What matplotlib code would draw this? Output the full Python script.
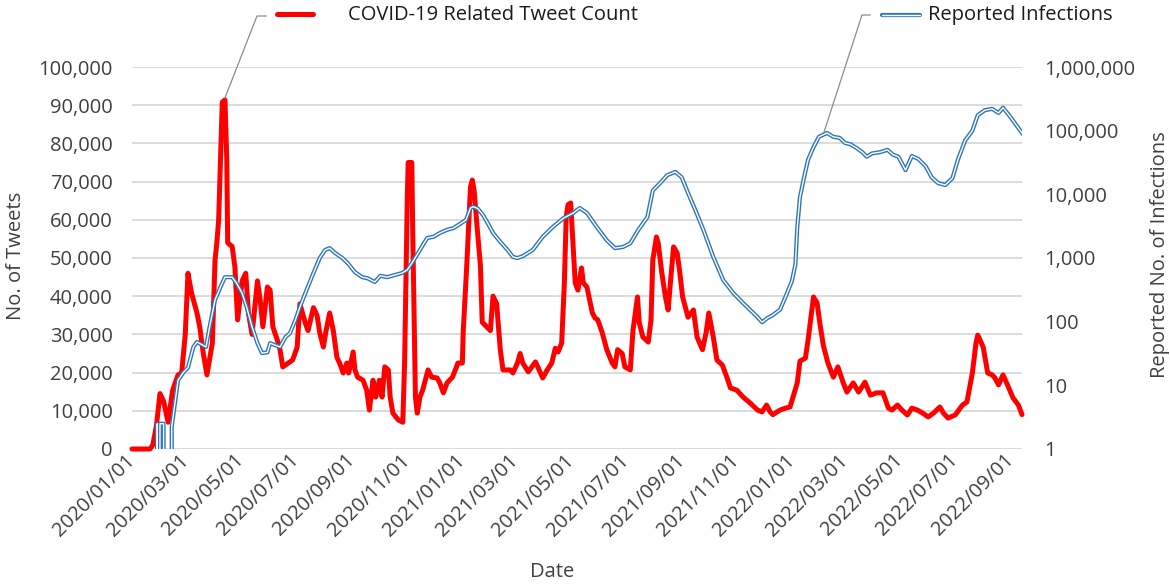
import matplotlib
matplotlib.use("Agg")
import matplotlib.pyplot as plt
import matplotlib.dates as mdates
import matplotlib.ticker as mticker
from matplotlib.lines import Line2D
import pandas as pd

# ---------------- data ----------------
tweet_dates = [
    "2020-01-01", "2020-01-21", "2020-01-24", "2020-01-28", "2020-02-01", "2020-02-05",
    "2020-02-10", "2020-02-15", "2020-02-21", "2020-02-25", "2020-02-29", "2020-03-03",
    "2020-03-07", "2020-03-13", "2020-03-16", "2020-03-20", "2020-03-24", "2020-03-30",
    "2020-04-02", "2020-04-04", "2020-04-06", "2020-04-10", "2020-04-13", "2020-04-15",
    "2020-04-16", "2020-04-21", "2020-04-24", "2020-04-27", "2020-05-02", "2020-05-06",
    "2020-05-09", "2020-05-13", "2020-05-19", "2020-05-22", "2020-05-25", "2020-05-30",
    "2020-06-02", "2020-06-05", "2020-06-10", "2020-06-13", "2020-06-16", "2020-06-22",
    "2020-06-27", "2020-07-02", "2020-07-05", "2020-07-11", "2020-07-14", "2020-07-20",
    "2020-07-24", "2020-07-27", "2020-07-31", "2020-08-03", "2020-08-07", "2020-08-11",
    "2020-08-15", "2020-08-18", "2020-08-22", "2020-08-26", "2020-08-28", "2020-09-02",
    "2020-09-04", "2020-09-07", "2020-09-13", "2020-09-17", "2020-09-20", "2020-09-24",
    "2020-09-27", "2020-10-01", "2020-10-04", "2020-10-07", "2020-10-11", "2020-10-13",
    "2020-10-16", "2020-10-22", "2020-10-27", "2020-10-29", "2020-11-01", "2020-11-02",
    "2020-11-06", "2020-11-07", "2020-11-10", "2020-11-12", "2020-11-15", "2020-11-18",
    "2020-11-24", "2020-11-28", "2020-12-04", "2020-12-07", "2020-12-11", "2020-12-15",
    "2020-12-21", "2020-12-25", "2020-12-27", "2021-01-01", "2021-01-02", "2021-01-06",
    "2021-01-10", "2021-01-12", "2021-01-14", "2021-01-17", "2021-01-21", "2021-01-23",
    "2021-01-28", "2021-02-01", "2021-02-04", "2021-02-08", "2021-02-12", "2021-02-15",
    "2021-02-23", "2021-02-26", "2021-03-03", "2021-03-06", "2021-03-09", "2021-03-15",
    "2021-03-23", "2021-03-27", "2021-03-31", "2021-04-05", "2021-04-10", "2021-04-14",
    "2021-04-17", "2021-04-21", "2021-04-24", "2021-04-26", "2021-04-28", "2021-05-01",
    "2021-05-04", "2021-05-06", "2021-05-09", "2021-05-13", "2021-05-15", "2021-05-19",
    "2021-05-25", "2021-05-28", "2021-05-31", "2021-06-05", "2021-06-10", "2021-06-16",
    "2021-06-19", "2021-06-22", "2021-06-27", "2021-06-30", "2021-07-06", "2021-07-09",
    "2021-07-14", "2021-07-16", "2021-07-20", "2021-07-26", "2021-07-29", "2021-07-31",
    "2021-08-04", "2021-08-06", "2021-08-10", "2021-08-14", "2021-08-17", "2021-08-20",
    "2021-08-23", "2021-08-27", "2021-08-30", "2021-09-02", "2021-09-08", "2021-09-14",
    "2021-09-18", "2021-09-24", "2021-09-28", "2021-10-01", "2021-10-06", "2021-10-10",
    "2021-10-16", "2021-10-21", "2021-10-25", "2021-11-01", "2021-11-08", "2021-11-16",
    "2021-11-24", "2021-11-29", "2021-12-04", "2021-12-08", "2021-12-11", "2021-12-19",
    "2021-12-25", "2021-12-30", "2022-01-02", "2022-01-07", "2022-01-10", "2022-01-16",
    "2022-01-19", "2022-01-25", "2022-01-29", "2022-02-01", "2022-02-05", "2022-02-10",
    "2022-02-16", "2022-02-21", "2022-02-27", "2022-03-03", "2022-03-10", "2022-03-16",
    "2022-03-23", "2022-03-29", "2022-04-05", "2022-04-12", "2022-04-18", "2022-04-22",
    "2022-04-28", "2022-05-03", "2022-05-09", "2022-05-14", "2022-05-20", "2022-05-26",
    "2022-06-01", "2022-06-07", "2022-06-14", "2022-06-18", "2022-06-23", "2022-07-01",
    "2022-07-09", "2022-07-14", "2022-07-20", "2022-07-24", "2022-07-26", "2022-08-01",
    "2022-08-06", "2022-08-11", "2022-08-14", "2022-08-18", "2022-08-23", "2022-08-29",
    "2022-09-03", "2022-09-09", "2022-09-13",
]
tweet_counts = [
    0, 0, 1000, 6000, 14500, 12500,
    7000, 15400, 19400, 19900, 30000, 46000,
    40800, 35600, 32000, 25000, 19400, 27700,
    49500, 54000, 60000, 90800, 91400, 75600,
    54000, 53000, 47600, 33800, 44000, 46000,
    35600, 30000, 44000, 39000, 32000, 42400,
    41600, 32000, 28500, 26000, 21500, 22500,
    23300, 26700, 38000, 33000, 31000, 37000,
    35000, 30400, 26700, 31000, 35600, 31000,
    24000, 22500, 19900, 22500, 19900, 25400,
    20700, 18800, 18000, 15400, 10200, 18000,
    13600, 18000, 13600, 21500, 20700, 13600,
    9400, 7600, 7000, 22500, 66000, 75000,
    75000, 57000, 13600, 9400, 13600, 15400,
    20700, 18800, 18600, 17300, 14700, 17300,
    18800, 21200, 22500, 22500, 31000, 48700,
    68600, 70400, 67800, 59000, 48000, 33200,
    32000, 31000, 40000, 38000, 26000, 20700,
    20700, 19900, 22500, 25000, 22500, 20200,
    22800, 20700, 18600, 20700, 22500, 26400,
    25400, 27700, 43500, 60700, 63900, 64400,
    52000, 43500, 41600, 47400, 43500, 42400,
    35600, 34300, 33800, 30400, 26000, 22500,
    21500, 26000, 25000, 21500, 20700, 31000,
    39800, 33000, 29300, 28000, 33800, 49500,
    55500, 53900, 46000, 39800, 36400, 45000,
    52900, 51300, 46000, 39800, 34500, 36400,
    29300, 26000, 30400, 35600, 29300, 23300,
    22000, 18800, 16000, 15400, 13600, 12000,
    10200, 9700, 11500, 9700, 9000, 10200,
    10700, 11000, 13400, 17300, 23000, 23800,
    28500, 39800, 38200, 33000, 27000, 22500,
    18800, 21500, 17300, 14900, 17300, 14900,
    17500, 14100, 14700, 14700, 10700, 10200,
    11500, 10200, 8900, 10700, 10200, 9400,
    8400, 9400, 11000, 9400, 8100, 8900,
    11500, 12300, 19900, 27700, 29800, 26700,
    19900, 19400, 18600, 16800, 19400, 16200,
    13400, 11500, 9000,
]

infection_dates = [
    "2020-01-01", "2020-01-26", "2020-01-29", "2020-01-31", "2020-02-01", "2020-02-05",
    "2020-02-08", "2020-02-11", "2020-02-14", "2020-02-18", "2020-02-21", "2020-02-27",
    "2020-03-03", "2020-03-09", "2020-03-13", "2020-03-19", "2020-03-23", "2020-03-27",
    "2020-04-02", "2020-04-08", "2020-04-13", "2020-04-21", "2020-04-26", "2020-05-02",
    "2020-05-07", "2020-05-13", "2020-05-19", "2020-05-24", "2020-05-30", "2020-06-02",
    "2020-06-07", "2020-06-13", "2020-06-19", "2020-06-24", "2020-06-30", "2020-07-05",
    "2020-07-13", "2020-07-20", "2020-07-27", "2020-08-02", "2020-08-07", "2020-08-13",
    "2020-08-21", "2020-08-27", "2020-09-04", "2020-09-12", "2020-09-18", "2020-09-26",
    "2020-10-02", "2020-10-10", "2020-10-18", "2020-10-26", "2020-11-01", "2020-11-07",
    "2020-11-15", "2020-11-23", "2020-11-30", "2020-12-07", "2020-12-15", "2020-12-22",
    "2020-12-29", "2021-01-05", "2021-01-10", "2021-01-13", "2021-01-18", "2021-01-24",
    "2021-01-29", "2021-02-04", "2021-02-12", "2021-02-20", "2021-02-26", "2021-03-03",
    "2021-03-09", "2021-03-20", "2021-03-31", "2021-04-11", "2021-04-23", "2021-05-04",
    "2021-05-11", "2021-05-19", "2021-05-30", "2021-06-10", "2021-06-19", "2021-06-28",
    "2021-07-06", "2021-07-15", "2021-07-25", "2021-07-31", "2021-08-08", "2021-08-16",
    "2021-08-25", "2021-09-01", "2021-09-08", "2021-09-16", "2021-09-25", "2021-10-06",
    "2021-10-17", "2021-10-28", "2021-11-08", "2021-11-16", "2021-11-24", "2021-11-29",
    "2021-12-05", "2021-12-11", "2021-12-19", "2021-12-25", "2022-01-01", "2022-01-05",
    "2022-01-07", "2022-01-10", "2022-01-14", "2022-01-19", "2022-01-25", "2022-01-31",
    "2022-02-09", "2022-02-16", "2022-02-23", "2022-03-01", "2022-03-07", "2022-03-14",
    "2022-03-20", "2022-03-25", "2022-03-31", "2022-04-09", "2022-04-17", "2022-04-23",
    "2022-04-29", "2022-05-07", "2022-05-14", "2022-05-21", "2022-05-29", "2022-06-05",
    "2022-06-12", "2022-06-20", "2022-06-28", "2022-07-04", "2022-07-12", "2022-07-20",
    "2022-07-26", "2022-08-03", "2022-08-11", "2022-08-18", "2022-08-23", "2022-08-31",
    "2022-09-08", "2022-09-13",
]
infection_counts = [
    0, 0, 2.5, 0, 2.5, 2.5,
    0, 0, 2.2, 5.9, 12, 16,
    19, 40, 48, 43, 40, 83,
    220, 350, 500, 500, 400, 280,
    170, 83, 46, 32, 33, 46,
    43, 40, 57, 66, 106, 170,
    330, 580, 1000, 1340, 1430, 1200,
    1000, 830, 600, 500, 480, 420,
    525, 500, 540, 580, 650, 870,
    1340, 2060, 2150, 2470, 2770, 2940,
    3400, 3950, 6100, 6400, 6000, 4700,
    3550, 2470, 1800, 1340, 1040, 1000,
    1070, 1340, 2150, 3050, 4230, 5100,
    6100, 5100, 3050, 1900, 1430, 1490,
    1700, 2770, 4400, 11500, 15000, 20000,
    22500, 18500, 10500, 5700, 2770, 1040,
    450, 283, 196, 152, 118, 98,
    114, 127, 155, 245, 430, 800,
    3000, 9000, 17000, 35000, 55000, 80000,
    92000, 80000, 77000, 64000, 61000, 53000,
    46000, 39000, 44000, 46000, 50000, 42000,
    39000, 24000, 40000, 36000, 28000, 18500,
    15000, 14000, 18000, 35000, 70000, 100000,
    175000, 210000, 220000, 190000, 230000, 165000,
    115000, 92000,
]

tick_dates = pd.date_range("2020-01-01", "2022-09-01", freq="2MS")
x_start, x_end = "2020-01-01", "2022-09-13"

series_labels = ["COVID-19 Related Tweet Count", "Reported Infections"]
left_label, right_label, x_label = "No. of Tweets", "Reported No. of Infections", "Date"

# ---------------- styling ----------------
W, H = 1170, 588
TXT = "#404040"
RED = "#ff0000"
BLUE = "#2e75b6"
FS = 14.5
plt.rcParams["font.family"] = ["Open Sans", "DejaVu Sans"]
plt.rcParams["font.size"] = FS

fig = plt.figure(figsize=(W / 100, H / 100), dpi=100)
L, R, T, B = 132, 1022, 67, 449
ax = fig.add_axes([L / W, 1 - B / H, (R - L) / W, (B - T) / H])

td = pd.to_datetime(tweet_dates)
idt = pd.to_datetime(infection_dates)

ax.plot(td, tweet_counts, color=RED, lw=3.6, solid_joinstyle="round",
        solid_capstyle="round", clip_on=False, zorder=3)
ax.set_ylim(0, 100000)
ax.set_yticks(range(0, 100001, 10000))
ax.yaxis.set_major_formatter(mticker.StrMethodFormatter("{x:,.0f}"))
ax.grid(axis="y", color="#d9d9d9", lw=1.3)
ax.set_axisbelow(True)
ax.set_xlim(pd.Timestamp(x_start), pd.Timestamp(x_end))
ax.set_xticks(tick_dates)
ax.set_xticklabels([d.strftime("%Y/%m/%d") for d in tick_dates])
for s in ax.spines.values():
    s.set_visible(False)
ax.tick_params(axis="y", length=0, pad=14, labelcolor=TXT, labelsize=FS)
ax.tick_params(axis="x", length=0, pad=6, labelcolor=TXT, labelsize=FS)
for lab in ax.get_xticklabels():
    lab.set_rotation(45)
    lab.set_ha("right")
    lab.set_va("center")
    lab.set_rotation_mode("anchor")

ax2 = ax.twinx()
ax2.set_yscale("log")
ax2.plot(idt, infection_counts, color=BLUE, lw=3.0, solid_joinstyle="round", zorder=4)
ax2.plot(idt, infection_counts, color="white", lw=1.0, solid_joinstyle="round", zorder=5)
ax2.set_ylim(1, 1e6)
ax2.set_yticks([1, 10, 100, 1000, 10000, 100000, 1000000])
ax2.yaxis.set_major_formatter(mticker.StrMethodFormatter("{x:,.0f}"))
ax2.yaxis.set_minor_locator(mticker.NullLocator())
for s in ax2.spines.values():
    s.set_visible(False)
ax2.tick_params(axis="y", length=0, pad=16, labelcolor=TXT, labelsize=FS)

# axis titles
fig.text(16 / W, 1 - 256 / H, left_label, rotation=90, ha="center", va="center",
         color=TXT, fontsize=FS)
fig.text(1160 / W, 1 - 255 / H, right_label, rotation=90, ha="center", va="center",
         color=TXT, fontsize=FS)
fig.text(552 / W, 1 - 572 / H, x_label, ha="center", va="center", color=TXT, fontsize=FS)

# legend entries with leader lines
fig.canvas.draw()
def disp(axis, date, val):
    return axis.transData.transform((mdates.date2num(pd.Timestamp(date)), val))

ly = H - 16
# red entry
i_peak = tweet_counts.index(max(tweet_counts))
px, py = disp(ax, tweet_dates[i_peak], tweet_counts[i_peak])
fig.add_artist(Line2D([px, 257, 266], [py + 2, ly, ly], transform=None,
                      color="#8c8c8c", lw=0.9))
fig.add_artist(Line2D([277, 313], [ly + 2, ly + 2], transform=None, color=RED, lw=3.6,
                      solid_capstyle="round"))
fig.text(348 / W, (ly + 1) / H, series_labels[0], ha="left", va="center", color="#1a1a1a",
         fontsize=FS)
# blue entry
j = infection_dates.index("2022-02-09")
bx, by = disp(ax2, infection_dates[j], infection_counts[j])
fig.add_artist(Line2D([bx - 3, 862, 870], [by + 1, H - 15, H - 15], transform=None,
                      color="#8c8c8c", lw=0.9))
fig.add_artist(Line2D([882, 920], [H - 15, H - 15], transform=None, color=BLUE, lw=3.0,
                      solid_capstyle="round"))
fig.add_artist(Line2D([882, 920], [H - 15, H - 15], transform=None, color="white", lw=1.0,
                      solid_capstyle="round"))
fig.text(928 / W, (H - 15) / H, series_labels[1], ha="left", va="center", color="#1a1a1a",
         fontsize=FS)

fig.savefig("out.png", dpi=100, facecolor="white")
